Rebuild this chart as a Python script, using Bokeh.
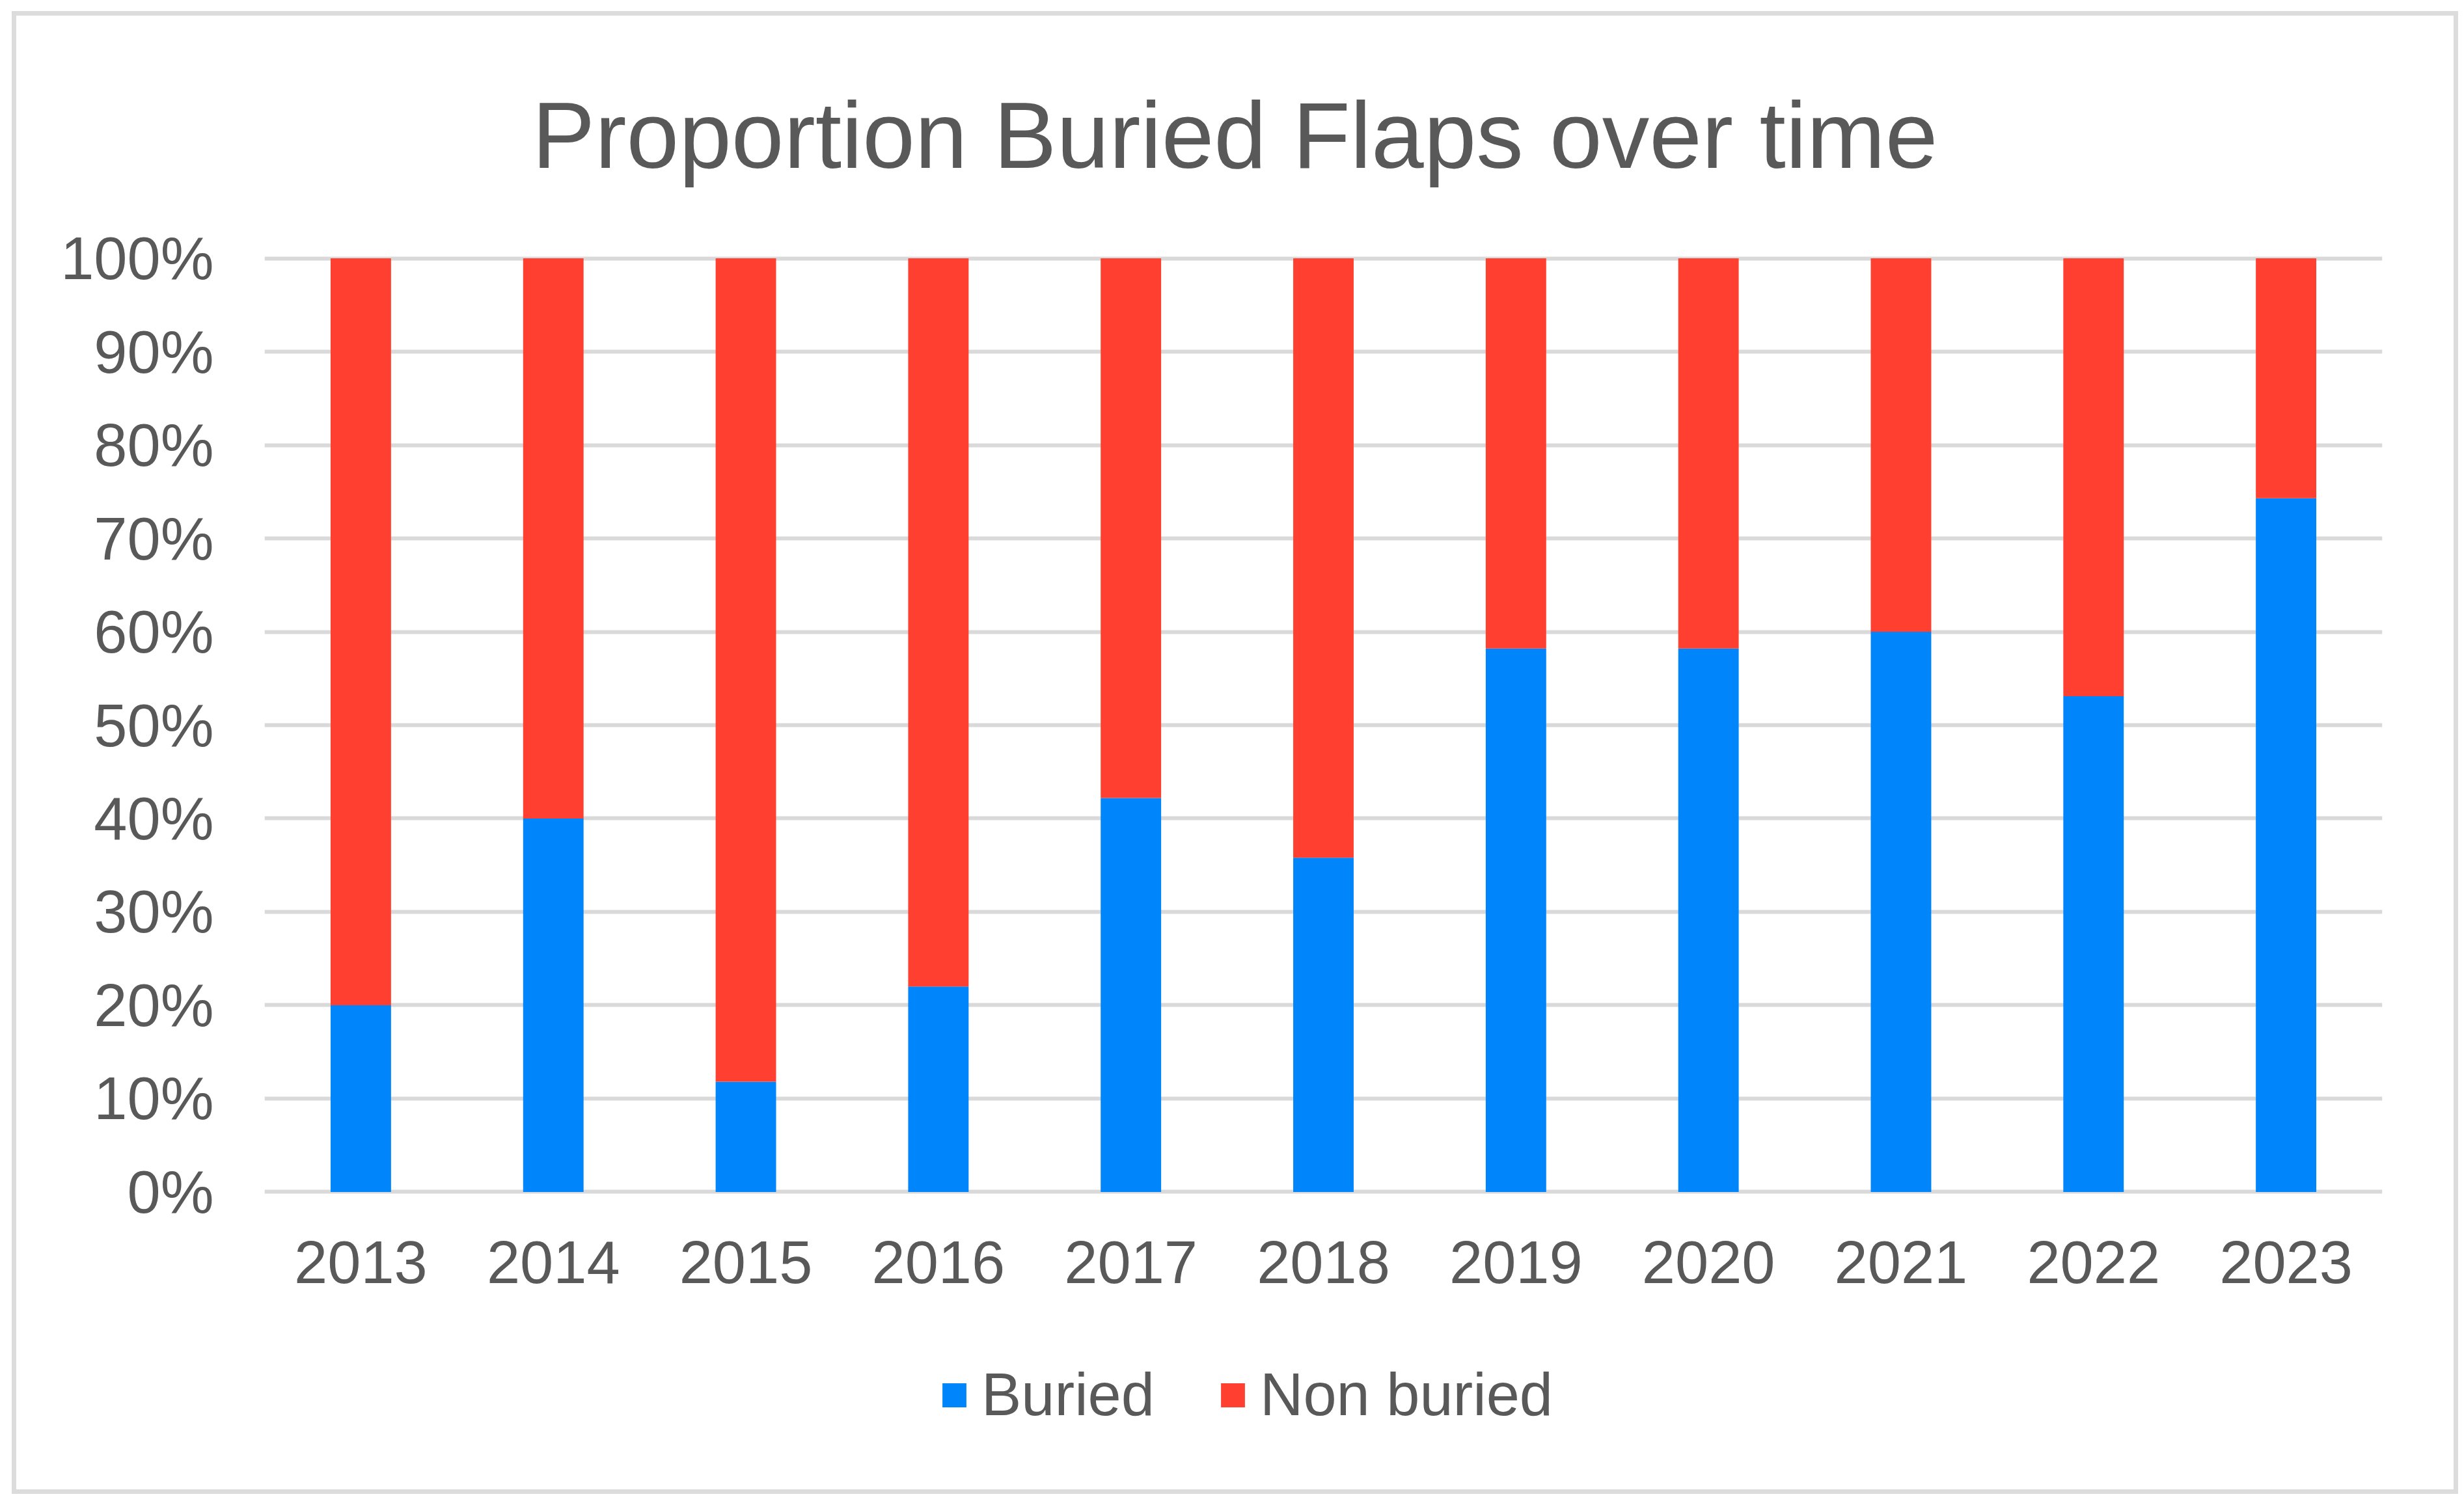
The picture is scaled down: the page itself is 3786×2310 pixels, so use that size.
from bokeh.plotting import figure
from bokeh.layouts import column
from bokeh.models import ColumnDataSource, NumeralTickFormatter, FixedTicker, Legend, Range1d, FactorRange, InlineStyleSheet
from bokeh.embed import file_html
from bokeh.resources import INLINE

years = ["2013", "2014", "2015", "2016", "2017", "2018", "2019", "2020", "2021", "2022", "2023"]
buried = [0.200, 0.400, 0.118, 0.220, 0.422, 0.358, 0.582, 0.582, 0.600, 0.531, 0.743]
non_buried = [0.800, 0.600, 0.882, 0.780, 0.578, 0.642, 0.418, 0.418, 0.400, 0.469, 0.257]
series_names = ["Buried", "Non buried"]
y_ticks = [0.0, 0.1, 0.2, 0.3, 0.4, 0.5, 0.6, 0.7, 0.8, 0.9, 1.0]
title_text = "Proportion Buried Flaps over time"

BLUE = "#0085FA"
RED = "#FF4030"
TXT = "#595959"
GRID = "#D9D9D9"
FONT = "Liberation Sans"

source = ColumnDataSource(data=dict(year=years, buried=buried, non_buried=non_buried))

W = 3786
H_CHART, H_LEGEND = 2040, 270

# --- chart ---
p = figure(x_range=FactorRange(*years, range_padding=0), y_range=Range1d(-0.0025, 1.0025),
           width=W, height=H_CHART, output_backend="svg", toolbar_location=None,
           min_border_left=406, min_border_right=126, min_border_top=393, min_border_bottom=205)

p.title.text = title_text
p.title.align = "left"
p.title.offset = 411
p.title.vertical_align = "top"
p.title.standoff = 206
p.title.text_font = FONT
p.title.text_font_size = "145px"
p.title.text_font_style = "normal"
p.title.text_color = TXT

renderers = p.vbar_stack(["buried", "non_buried"], x="year", width=0.314,
                         color=[BLUE, RED], line_color=None, source=source)

p.outline_line_color = None
p.background_fill_color = "white"
p.border_fill_color = "white"

p.xgrid.grid_line_color = None
p.ygrid.grid_line_color = GRID
p.ygrid.grid_line_width = 6
p.ygrid.ticker = FixedTicker(ticks=y_ticks)
p.ygrid.level = "underlay"

p.yaxis.ticker = FixedTicker(ticks=y_ticks)
p.yaxis.formatter = NumeralTickFormatter(format="0%")
for ax in (p.xaxis, p.yaxis):
    ax.axis_line_color = None
    ax.major_tick_line_color = None
    ax.minor_tick_line_color = None
    ax.major_tick_out = 0
    ax.major_label_text_font = FONT
    ax.major_label_text_font_size = "92px"
    ax.major_label_text_color = TXT
p.yaxis.major_label_standoff = 78
p.xaxis.major_label_standoff = 72

# --- legend strip (same series, bars kept out of its visible range) ---
pl = figure(width=W, height=H_LEGEND, output_backend="svg", toolbar_location=None,
            x_axis_type=None, y_axis_type=None,
            x_range=FactorRange(*years, range_padding=0), y_range=Range1d(2, 3),
            min_border_left=0, min_border_right=0, min_border_top=0, min_border_bottom=0)
pl.outline_line_color = None
pl.border_fill_color = "white"
pl.background_fill_color = "white"
legend_renderers = pl.vbar_stack(["buried", "non_buried"], x="year", width=0.314,
                                 color=[BLUE, RED], line_color=None, source=source)

legend = Legend(items=[(series_names[0], [legend_renderers[0]]), (series_names[1], [legend_renderers[1]])],
                orientation="horizontal", location=(1037, 114),
                glyph_width=46, glyph_height=46, label_standoff=19, spacing=97,
                padding=0, margin=0, border_line_alpha=0, background_fill_alpha=0,
                label_text_font=FONT, label_text_font_size="92px", label_text_color=TXT)
pl.add_layout(legend, "center")

layout = column(p, pl, spacing=0)
layout.stylesheets = [InlineStyleSheet(css=":host { position: relative; } :host::after { content: ''; position: absolute; left: 18px; top: 17px; width: 3759px; height: 2279px; border: 7px solid #DCDCDC; box-sizing: border-box; pointer-events: none; z-index: 100; }")]

open("out.html", "w").write(file_html(layout, INLINE))
